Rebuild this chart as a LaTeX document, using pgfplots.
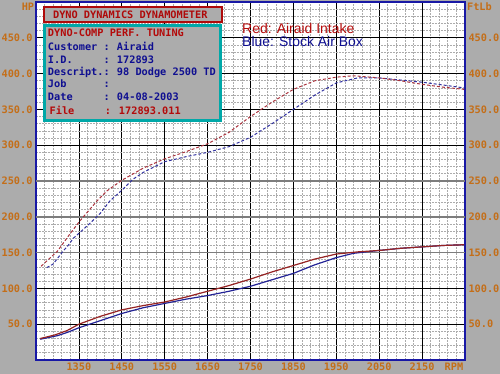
\documentclass[border=0pt]{standalone}
\usepackage{pgfplots}
\pgfplotsset{compat=1.18}
\usepackage{fontspec}
\newfontfamily\dyno{DejaVu Sans Mono}
\newfontfamily\arial{Liberation Sans}
\definecolor{bg}{RGB}{172,172,172}
\definecolor{lbl}{RGB}{196,110,24}
\definecolor{axblue}{RGB}{24,24,165}
\definecolor{majgray}{RGB}{125,125,125}
\definecolor{mingray}{RGB}{172,172,172}
\definecolor{tqred}{RGB}{170,50,60}
\definecolor{tqblue}{RGB}{50,50,160}
\definecolor{hpred}{RGB}{150,35,35}
\definecolor{hpblue}{RGB}{35,35,150}
\definecolor{txtred}{RGB}{180,10,10}
\definecolor{txtblue}{RGB}{15,15,145}
\definecolor{teal}{RGB}{0,168,168}
\definecolor{boxred}{RGB}{175,10,10}
\newcommand{\dfont}{\dyno\bfseries\fontsize{10.3}{12}\selectfont}

\pgfplotstableread{
rpm val
1262 131
1300 152
1329 176
1352 194
1392 222
1415 236
1450 251
1500 268
1550 281
1600 291
1650 302
1700 318
1750 340
1800 360
1850 378
1900 390
1950 395
1990 397
2050 394
2100 390
2150 385
2200 381
2248 378
}\tqRed

\pgfplotstableread{
rpm val
1275 129
1290 134
1313 152
1325 160
1337 170
1352 178
1376 191
1400 205
1422 222
1450 237
1475 252
1500 262
1550 277
1600 284
1650 290
1700 298
1750 311
1800 330
1850 350
1900 370
1950 387
2000 394
2050 394
2100 391
2150 388
2200 384
2248 380
}\tqBlue

\pgfplotstableread{
rpm val
1260 30
1294 35
1322 41
1350 50
1400 61
1450 70
1500 76
1550 81
1600 88
1650 96
1700 104
1750 113
1800 123
1850 132
1900 141
1950 148
2000 151
2050 153
2100 156
2150 158
2200 160
2248 161
}\hpRed

\pgfplotstableread{
rpm val
1260 29
1300 34
1325 39
1350 45
1400 55
1450 65
1500 73
1550 79
1600 85
1650 90
1700 96
1750 103
1800 112
1850 121
1900 133
1950 143
1990 149
2050 153
2100 156
2150 158
2200 160
2248 161
}\hpBlue

\begin{document}
\begin{tikzpicture}
\useasboundingbox (0,0) rectangle (500bp,374bp);
\fill[bg] (0,0) rectangle (500bp,374bp);
\begin{axis}[
  at={(36bp,14bp)}, anchor=south west, scale only axis,
  width=429bp, height=358bp,
  xmin=1250, xmax=2250, ymin=0, ymax=500,
  axis background/.style={fill=white},
  axis line style={draw=axblue, line width=2bp},
  xtick={1350,1450,1550,1650,1750,1850,1950,2050,2150},
  xticklabels={1350,1450,1550,1650,1750,1850,1950,2050,2150},
  ytick={50,100,150,200,250,300,350,400,450},
  yticklabels={50.0,100.0,150.0,200.0,250.0,300.0,350.0,400.0,450.0},
  minor xtick={1250,1270,...,2250},
  minor ytick={0,10,...,500},
  xmajorgrids, ymajorgrids, xminorgrids, yminorgrids,
  major tick length=0pt, minor tick length=0pt,
  major grid style={black, line width=0.8bp},
  minor grid style={mingray, line width=0.7bp, dash pattern=on 2bp off 1bp},
  tick label style={font=\dfont, text=lbl},
  xticklabel style={yshift=1bp},
]
\draw[majgray, line width=1.6bp] (axis cs:1250,150) -- (axis cs:2250,150);
\draw[majgray, line width=1.6bp] (axis cs:1250,200) -- (axis cs:2250,200);
\draw[majgray, line width=1.6bp] (axis cs:1250,250) -- (axis cs:2250,250);
\addplot[tqblue, line width=1bp, dash pattern=on 3bp off 2bp] table[x=rpm,y=val] {\tqBlue};
\addplot[tqred, line width=1bp, dash pattern=on 3bp off 2bp] table[x=rpm,y=val] {\tqRed};
\addplot[hpblue, line width=1.2bp] table[x=rpm,y=val] {\hpBlue};
\addplot[hpred, line width=1.2bp] table[x=rpm,y=val] {\hpRed};
\end{axis}
\begin{axis}[
  at={(36bp,14bp)}, anchor=south west, scale only axis,
  width=429bp, height=358bp,
  xmin=1250, xmax=2250, ymin=0, ymax=500,
  hide x axis, axis y line*=right,
  y axis line style={draw=none},
  ytick={50,100,150,200,250,300,350,400,450},
  yticklabels={50.0,100.0,150.0,200.0,250.0,300.0,350.0,400.0,450.0},
  major tick length=0pt,
  tick label style={font=\dfont, text=lbl},
]
\end{axis}
\begin{scope}[x=1bp,y=1bp]
% axis titles
\node[font=\dfont, text=lbl, inner sep=0] at (28,367) {HP};
\node[font=\dfont, text=lbl, inner sep=0] at (479.5,367) {FtLb};
\node[font=\dfont, text=lbl, inner sep=0] at (454,7.5) {RPM};
% legend text
\node[font=\arial\fontsize{14}{16}\selectfont, text=txtred, anchor=base west, inner sep=0] at (242,340.7) {Red: Airaid Intake};
\node[font=\arial\fontsize{14}{16}\selectfont, text=txtblue, anchor=base west, inner sep=0] at (242,327.3) {Blue: Stock Air Box};
% title box
\filldraw[fill=bg, draw=boxred, line width=2bp] (44.3,352.3) rectangle (221.7,367);
\node[font=\dfont, text=boxred, inner sep=0] at (130.3,359) {DYNO DYNAMICS DYNAMOMETER};
% info box
\filldraw[fill=bg, draw=teal, line width=2.6bp] (44.6,253.6) rectangle (220.4,348.7);
\begin{scope}[every node/.style={font=\dfont, inner sep=0, text height=7.5bp, text depth=0pt}]
\node[anchor=west, text=txtred] at (47.8,341.3) {DYNO-COMP PERF. TUNING};
\node[anchor=west, text=txtblue] at (47.8,327.3) {Customer};
\node[anchor=west, text=txtblue] at (47.8,314.7) {I.D.};
\node[anchor=west, text=txtblue] at (47.8,302.3) {Descript.};
\node[anchor=west, text=txtblue] at (47.8,290) {Job};
\node[anchor=west, text=txtblue] at (47.8,277.3) {Date};
\node[anchor=west, text=txtred] at (49.5,263) {File};
\node[text=txtblue] at (106.7,327.3) {:};
\node[text=txtblue] at (106.7,314.7) {:};
\node[text=txtblue] at (106.7,302.3) {:};
\node[text=txtblue] at (106.7,290) {:};
\node[text=txtblue] at (106.7,277.3) {:};
\node[text=txtred] at (108,263) {:};
\node[anchor=west, text=txtblue] at (116.8,327.3) {Airaid};
\node[anchor=west, text=txtblue] at (116.8,314.7) {172893};
\node[anchor=west, text=txtblue] at (116.8,302.3) {98 Dodge 2500 TD};
\node[anchor=west, text=txtblue] at (116.8,277.3) {04-08-2003};
\node[anchor=west, text=txtred] at (118.8,263) {172893.011};
\end{scope}
\end{scope}
\end{tikzpicture}
\end{document}
